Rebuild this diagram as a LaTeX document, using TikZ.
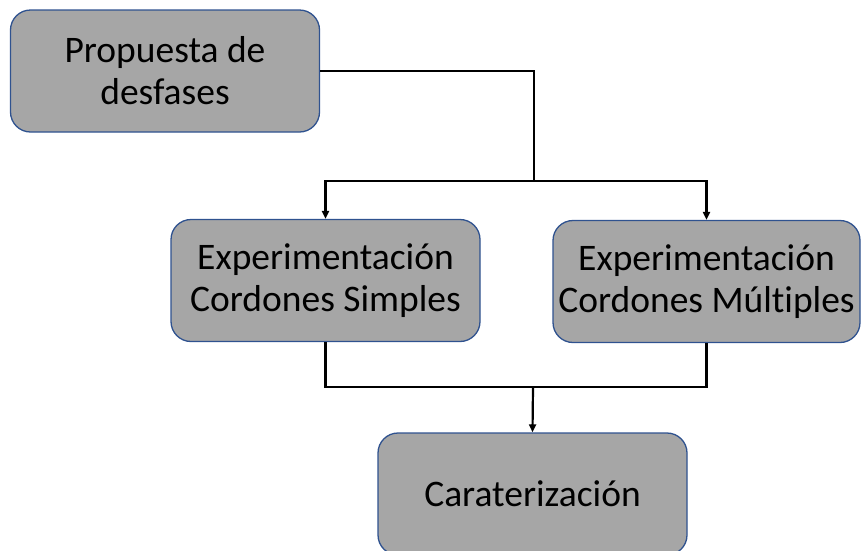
\documentclass[tikz,border=0pt]{standalone}
\usepackage{fontspec}
\setmainfont{Carlito}[Ligatures=NoCommon]
\usetikzlibrary{arrows.meta}
\definecolor{cajagris}{HTML}{A6A6A6}
\definecolor{bordeazul}{HTML}{2F528F}

\begin{document}
\begin{tikzpicture}[x=1pt,y=-1pt,
  caja/.style={draw=bordeazul,line width=1.3pt,fill=cajagris,rounded corners=20pt,
    minimum width=309pt,minimum height=122pt,align=center,inner sep=0pt,
    font=\fontsize{37.5}{42}\selectfont},
  flujo/.style={line width=2.2pt},
  >={Triangle[length=8pt,width=7pt]}]
  \useasboundingbox (0,0) rectangle (861,550);

  % cajas
  \node[caja] (prop) at (165,71) {Propuesta de\\desfases};
  \node[caja] (simples) at (325.5,280.5) {Experimentación\\Cordones Simples};
  \node[caja,minimum width=307pt] (multiples) at (706.5,281.5) {Experimentación\\Cordones Múltiples};
  \node[caja] (carac) at (532.5,494) {Caraterización};

  % puntos de bifurcación
  \coordinate (split) at (534,181);
  \coordinate (join) at (533,387);

  % conexiones
  \draw[flujo] (prop.east) -| (split);
  \draw[flujo,->] (split) -| (simples.north);
  \draw[flujo,->] (split) -| (multiples.north);
  \draw[flujo] (simples.south) |- (join) -| (multiples.south);
  \draw[flujo,->] (join) -- (carac.north);
\end{tikzpicture}
\end{document}
